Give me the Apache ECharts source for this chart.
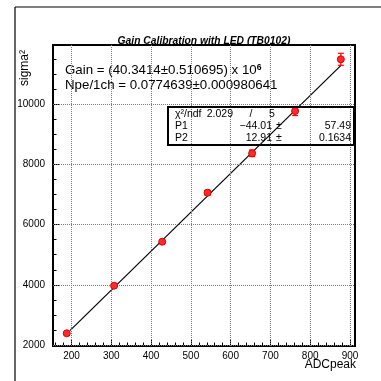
<!DOCTYPE html>
<html>
<head>
<meta charset="utf-8">
<script src="https://cdn.jsdelivr.net/npm/echarts@6/dist/echarts.min.js"></script>
<style>
html,body{margin:0;padding:0;background:#fff;}
#c{width:381px;height:381px;}
</style>
</head>
<body>
<div id="c"></div>
<script>
// ---- data ----
const adcPeak = [188, 307, 428, 542, 654, 762, 877];
const sigma2  = [2389, 3971, 5433, 7062, 8371, 9777, 11495];
const sigma2Err = [30, 40, 60, 80, 110, 150, 200];
const fitX = [196, 878];
const fitY = [2480, 11300];
const xTicks = [200, 300, 400, 500, 600, 700, 800, 900];
const yTicks = [2000, 4000, 6000, 8000, 10000];
const titleText = 'Gain Calibration with LED (TB0102)';
const gainText = 'Gain = (40.3414\u00B10.510695) x 10';
const gainExp = '6';
const npeText = 'Npe/1ch = 0.0774639\u00B10.000980641';
const statsRows = [
  ['\u03C7\u00B2/ndf', '2.029', '/', '5'],
  ['P1', '\u221244.01', '\u00B1', '57.49'],
  ['P2', '12.91', '\u00B1', '0.1634']
];

const xMin = 153.5, xMax = 912.6, yMin = 1967, yMax = 11970;
const xMinor = []; for (let v = 160; v <= 910; v += 20) if (v % 100 !== 0) xMinor.push(v);
const yMinor = []; for (let v = 2500; v <= 11970; v += 500) if (v % 2000 !== 0) yMinor.push(v);

const font = 'Liberation Sans, Arial, Helvetica, sans-serif';
const chart = echarts.init(document.getElementById('c'), null, {renderer: 'canvas'});

const gridLineStyle = {type: 'dotted', color: '#7a7a7a', width: 1};
const markData = xTicks.map(v => ({xAxis: v})).concat(yTicks.map(v => ({yAxis: v})));

const statsGraphics = [];
const rowY = [114, 126, 138];
const sf = '10.5px ' + font;
statsRows.forEach((r, i) => {
  statsGraphics.push({type: 'text', x: 175, y: rowY[i], style: {text: r[0], font: sf, fill: '#000', textVerticalAlign: 'middle'}});
  if (i === 0) {
    statsGraphics.push({type: 'text', x: 233, y: rowY[i], style: {text: r[1], font: sf, fill: '#000', textAlign: 'right', textVerticalAlign: 'middle'}});
    statsGraphics.push({type: 'text', x: 251, y: rowY[i], style: {text: r[2], font: sf, fill: '#000', textAlign: 'center', textVerticalAlign: 'middle'}});
    statsGraphics.push({type: 'text', x: 272, y: rowY[i], style: {text: r[3], font: sf, fill: '#000', textAlign: 'center', textVerticalAlign: 'middle'}});
  } else {
    statsGraphics.push({type: 'text', x: 272, y: rowY[i], style: {text: r[1], font: sf, fill: '#000', textAlign: 'right', textVerticalAlign: 'middle'}});
    statsGraphics.push({type: 'text', x: 279, y: rowY[i], style: {text: r[2], font: sf, fill: '#000', textAlign: 'center', textVerticalAlign: 'middle'}});
    statsGraphics.push({type: 'text', x: 351, y: rowY[i], style: {text: r[3], font: sf, fill: '#000', textAlign: 'right', textVerticalAlign: 'middle'}});
  }
});

const option = {
  animation: false,
  backgroundColor: '#fff',
  grid: {left: 53, top: 45, width: 302, height: 301, show: true, borderColor: '#000', borderWidth: 2, backgroundColor: 'transparent', containLabel: false},
  xAxis: [
    {type: 'value', min: xMin, max: xMax, position: 'bottom',
     axisLine: {show: false},
     axisTick: {show: true, inside: true, length: 7, customValues: xTicks, lineStyle: {color: '#000', width: 1}},
     axisLabel: {show: true, customValues: xTicks, color: '#000', fontSize: 10, fontFamily: font, margin: 5,
                 formatter: v => String(v)},
     splitLine: {show: false}},
    {type: 'value', min: xMin, max: xMax, position: 'bottom',
     axisLine: {show: false},
     axisTick: {show: true, inside: true, length: 3.5, customValues: xMinor, lineStyle: {color: '#000', width: 1}},
     axisLabel: {show: false},
     splitLine: {show: false}}
  ],
  yAxis: [
    {type: 'value', min: yMin, max: yMax, position: 'left',
     axisLine: {show: true, lineStyle: {color: '#000', width: 2}},
     axisTick: {show: true, inside: true, length: 7, customValues: yTicks, lineStyle: {color: '#000', width: 1}},
     axisLabel: {show: true, customValues: yTicks, color: '#000', fontSize: 10, fontFamily: font, margin: 8,
                 formatter: v => String(v)},
     splitLine: {show: false}},
    {type: 'value', min: yMin, max: yMax, position: 'left',
     axisLine: {show: false},
     axisTick: {show: true, inside: true, length: 3.5, customValues: yMinor, lineStyle: {color: '#000', width: 1}},
     axisLabel: {show: false},
     splitLine: {show: false}}
  ],
  series: [
    {type: 'line', xAxisIndex: 0, yAxisIndex: 0, data: [], silent: true,
     markLine: {silent: true, symbol: ['none', 'none'], label: {show: false}, lineStyle: gridLineStyle, data: markData}},
    {type: 'line', xAxisIndex: 0, yAxisIndex: 0, data: fitX.map((x, i) => [x, fitY[i]]),
     showSymbol: false, symbol: 'none', lineStyle: {color: '#000', width: 1.2}, z: 3},
    {type: 'custom', xAxisIndex: 0, yAxisIndex: 0, z: 4,
     data: adcPeak.map((x, i) => [x, sigma2[i], sigma2Err[i]]),
     renderItem: function (params, api) {
       const x = api.value(0), y = api.value(1), e = api.value(2);
       const t = api.coord([x, y + e]), b = api.coord([x, y - e]);
       const w = 3;
       const st = {stroke: '#ff0000', lineWidth: 1.2};
       return {type: 'group', children: [
         {type: 'line', shape: {x1: t[0], y1: t[1], x2: b[0], y2: b[1]}, style: st},
         {type: 'line', shape: {x1: t[0] - w, y1: t[1], x2: t[0] + w, y2: t[1]}, style: st},
         {type: 'line', shape: {x1: b[0] - w, y1: b[1], x2: b[0] + w, y2: b[1]}, style: st}
       ]};
     }},
    {type: 'scatter', xAxisIndex: 0, yAxisIndex: 0, z: 5,
     data: adcPeak.map((x, i) => [x, sigma2[i]]),
     symbol: 'circle', symbolSize: 7,
     itemStyle: {color: '#ff2a2a', borderColor: '#e00000', borderWidth: 1, opacity: 1}}
  ],
  graphic: [
    {type: 'line', shape: {x1: 15, y1: 7, x2: 15, y2: 381}, style: {stroke: '#000', lineWidth: 1.2}},
    {type: 'line', shape: {x1: 15, y1: 7, x2: 381, y2: 7}, style: {stroke: '#000', lineWidth: 1.2}},
    {type: 'text', x: 204, y: 41, style: {text: titleText, font: 'italic bold 10.3px ' + font, fill: '#000', textAlign: 'center', textVerticalAlign: 'middle'}},
    {type: 'text', x: 25, y: 50, rotation: Math.PI / 2, style: {text: 'sigma\u00B2', font: '12px ' + font, fill: '#000', textAlign: 'right', textVerticalAlign: 'middle'}},
    {type: 'text', x: 356, y: 365, style: {text: 'ADCpeak', font: '12px ' + font, fill: '#000', textAlign: 'right', textVerticalAlign: 'middle'}},
    {type: 'text', x: 65, y: 70, style: {
      text: '{a|' + gainText + '}{s|' + gainExp + '}',
      textVerticalAlign: 'middle',
      rich: {a: {font: '13.3px ' + font, color: '#000'}, s: {font: 'bold 8.5px ' + font, color: '#000', verticalAlign: 'top'}}
    }},
    {type: 'text', x: 65, y: 85, style: {text: npeText, font: '13.3px ' + font, fill: '#000', textVerticalAlign: 'middle'}},
    {type: 'rect', shape: {x: 168, y: 107, width: 186, height: 38}, style: {fill: 'none', stroke: '#000', lineWidth: 2}, z: 10}
  ].concat(statsGraphics.map(g => Object.assign(g, {z: 10})))
};
chart.setOption(option);
</script>
</body>
</html>
